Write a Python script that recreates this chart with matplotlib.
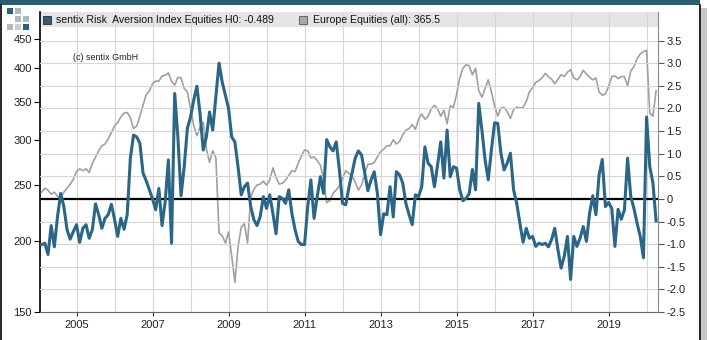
import numpy as np
import matplotlib.pyplot as plt
from matplotlib.patches import Rectangle
from matplotlib.lines import Line2D

plt.rcParams['font.family'] = ['Liberation Sans', 'DejaVu Sans']

W, H = 710, 340

# monthly values, Feb 2004 .. Apr 2020
risk_aversion = [
    -1.01, -0.98, -1.23, -0.59, -1.06, -0.39, 0.12, -0.17, -0.68, -0.89,
    -0.72, -0.57, -0.96, -0.65, -0.57, -0.87, -0.68, -0.11, -0.35, -0.65,
    -0.43, -0.35, -0.12, -0.45, -0.83, -0.43, -0.67, -0.35, 0.90, 1.41,
    1.37, 1.23, 0.57, 0.40, 0.20, 0.00, -0.24, 0.23, -0.59, -0.06,
    0.86, -0.98, 2.33, 1.37, 0.07, 0.71, 1.56, 1.81, 2.18, 2.49,
    1.89, 1.08, 1.37, 1.92, 1.52, 2.25, 3.00, 2.58, 2.29, 2.00,
    1.37, 1.26, 0.71, 0.09, 0.27, 0.35, -0.17, -0.46, -0.59, -0.39,
    0.05, -0.21, 0.09, -0.32, -0.77, 0.05, 0.01, -0.10, 0.20, -0.32,
    -0.68, -0.94, -1.01, -1.01, -0.17, 0.42, -0.43, 0.05, 0.49, 0.12,
    1.31, 1.15, 1.06, 1.26, 0.64, -0.10, -0.13, 0.25,
    0.57, 0.90, 1.06, 0.97, 0.57, 0.18, 0.42, 0.60, 0.12, -0.79,
    -0.33, -0.35, 0.27, -0.40, 0.60, 0.53, 0.35, -0.10, -0.35, -0.57,
    0.09, 0.05, 0.27, 1.15, 0.79, 0.71, 0.27, 0.75, 1.26, 0.46,
    1.52, 0.49, 0.71, 0.68, 0.20, -0.04, 0.01, 0.12, 0.65, 0.20,
    2.11, 1.52, 0.86, 0.42, 1.08, 1.68, 1.67, 1.01, 0.64, 0.79,
    1.01, 0.20, -0.10, -0.54, -0.96, -0.65, -0.87, -0.83, -1.05, -0.98,
    -1.01, -0.98, -1.06, -0.90, -0.65, -1.12, -1.53, -1.27, -0.83, -1.78,
    -0.83, -1.05, -0.87, -0.61, -0.94, -0.32, 0.07, -0.35, 0.53, 0.87,
    -0.17, -0.08, -0.21, -1.05, -0.23, -0.45, -0.24, 0.90, 0.05, -0.21,
    -0.54, -0.83, -1.30, 1.81, 0.71, 0.35, -0.489,
]

europe_equities = [
    243, 247, 245, 241, 243, 239, 237, 243, 247, 251,
    256, 264, 267, 265, 267, 263, 273, 280, 287, 293,
    295, 301, 309, 317, 322, 329, 334, 335, 328, 314,
    317, 330, 345, 360, 365, 376, 380, 380, 388, 389,
    393, 380, 374, 386, 385, 369, 364, 340, 318, 305,
    316, 322, 289, 274, 287, 279, 206, 204, 198, 207,
    188, 169, 195, 211, 214, 198, 238, 246, 250, 251,
    254, 250, 255, 268, 258, 251, 252, 255, 260, 265,
    264, 273, 281, 288, 287, 279, 280, 276, 271, 256,
    233, 235, 242, 245, 249, 257, 265, 262,
    260, 253, 245, 250, 262, 272, 272, 274, 280, 286,
    289, 293, 293, 300, 295, 298, 306, 312, 314, 319,
    313, 326, 333, 326, 330, 340, 345, 340, 330, 338,
    320, 344, 342, 360, 385, 400, 406, 404, 390, 400,
    366, 356, 369, 382, 364, 344, 330, 341, 342, 336,
    327, 339, 342, 341, 342, 350, 364, 370, 378, 381,
    385, 392, 387, 383, 376, 383, 390, 387, 394, 398,
    385, 382, 387, 397, 391, 386, 382, 385, 364, 359,
    361, 372, 387, 388, 384, 387, 387, 373, 396, 403,
    416, 424, 428, 430, 334, 330, 365.5,
]

assert len(risk_aversion) == len(europe_equities)
dates = 2004 + np.arange(1, len(risk_aversion) + 1) / 12.0

left_ticks = [150, 200, 250, 300, 350, 400, 450]
right_ticks = [-2.5, -2.0, -1.5, -1.0, -0.5, 0, 0.5, 1.0, 1.5, 2.0, 2.5, 3.0, 3.5]
year_labels = [2005, 2007, 2009, 2011, 2013, 2015, 2017, 2019]

label1 = "sentix Risk  Aversion Index Equities H0: -0.489"
label2 = "Europe Equities (all): 365.5"

BLUE = '#2b6687'
GREY = '#a0a0a0'
GRID = '#d6d6d6'

def fx(px):
    return px / W

def fy(py):
    return 1 - py / H

fig = plt.figure(figsize=(W / 100, H / 100), dpi=100)
fig.patch.set_facecolor('white')

# plot box in pixels: x 40..658, y 12..312
ax = fig.add_axes([fx(40), fy(312), (658 - 40) / W, (312 - 12) / H])
ax2 = ax.twinx()

ax.set_yscale('log')
ax.set_ylim(150, 502)
ax.set_yticks(left_ticks)
ax.set_yticklabels([str(v) for v in left_ticks])
ax.yaxis.set_minor_locator(plt.NullLocator())
ax.set_xlim(2004.039, 2020.30)
ax.set_xticks(year_labels)
ax.set_xticklabels([str(y) for y in year_labels])
ax.set_xticks([y for y in range(2006, 2021, 2)], minor=True)
ax.grid(True, axis='x', which='both', color=GRID, lw=0.8)
ax.tick_params(axis='x', which='minor', length=0)
ax.tick_params(axis='x', which='major', length=3, color='#333', labelsize=8, labelcolor='#222', pad=3)
ax.tick_params(axis='y', length=4, color='black', labelsize=8, labelcolor='#222', pad=2)

ax2.set_ylim(-2.5, 4.13)
ax2.set_yticks(right_ticks)
ax2.set_yticklabels(['0' if v == 0 else '%.1f' % v for v in right_ticks])
ax2.yaxis.grid(True, color=GRID, lw=0.8)
ax2.tick_params(axis='y', length=4, color='#555', labelsize=8, labelcolor='#222', pad=2)

for a in (ax, ax2):
    a.spines['top'].set_visible(False)
ax.spines['right'].set_visible(False)
ax2.spines['left'].set_visible(False)
ax2.spines['bottom'].set_visible(False)
ax.spines['left'].set_color('black')
ax.spines['left'].set_linewidth(1.2)
ax.spines['bottom'].set_color('#666')
ax2.spines['right'].set_color('#888')

# legend band at the top of the plot box
band = Rectangle((0, (312 - 27) / 300), 1, 15 / 300, transform=ax.transAxes,
                 facecolor='#e4e4e4', edgecolor='none', zorder=1)
ax.add_patch(band)

ax.plot(dates, europe_equities, color=GREY, lw=1.2, zorder=3)
ax2.axhline(0, color='black', lw=1.6, zorder=2)
ax2.plot(dates, risk_aversion, color=BLUE, lw=2.2, zorder=3, solid_joinstyle='round')

ly = (312 - 20) / 300
ax2.plot([(47 - 40) / 618], [ly], marker='s', ms=5.5, mfc='#3e5a70', mec='#1e2e3a', mew=0.6,
         transform=ax2.transAxes, clip_on=False, zorder=5)
ax2.text((56 - 40) / 618, ly, label1, transform=ax2.transAxes, fontsize=7.6,
         va='center', ha='left', color='#111', zorder=5)
ax2.plot([(303 - 40) / 618], [ly], marker='s', ms=5.5, mfc='#a8a8a8', mec='#555', mew=0.6,
         transform=ax2.transAxes, clip_on=False, zorder=5)
ax2.text((313 - 40) / 618, ly, label2, transform=ax2.transAxes, fontsize=7.6,
         va='center', ha='left', color='#111', zorder=5)

ax2.text((73 - 40) / 618, (312 - 57) / 300, "(c) sentix GmbH", transform=ax2.transAxes,
         fontsize=6.5, va='center', ha='left', color='#222')

# page decoration: title strip, logo squares, frame
fig.add_artist(Rectangle((0, fy(5)), fx(700), 5 / H, transform=fig.transFigure,
                         facecolor='#2d5b70', edgecolor='none'))
logo = [(7, 8, '#2e5f86'), (15, 8, '#b0b8c0'),
        (15, 16, '#b0b8c0'), (23, 16, '#b0b8c0'),
        (7, 24, '#b0b8c0'), (15, 24, '#c8ced4'), (23, 24, '#2e5f86')]
for px, py, c in logo:
    fig.add_artist(Rectangle((fx(px), fy(py + 6)), 6 / W, 6 / H, transform=fig.transFigure,
                             facecolor=c, edgecolor='none'))
fig.add_artist(Line2D([fx(1), fx(1)], [fy(5), 0], transform=fig.transFigure, color='black', lw=1.2))
fig.add_artist(Line2D([fx(700), fx(700)], [fy(5), 0], transform=fig.transFigure, color='black', lw=1.2))
fig.add_artist(Rectangle((fx(701), 0), 6 / W, fy(8), transform=fig.transFigure,
                         facecolor='#c8c8c8', edgecolor='none'))

fig.savefig('out.png', dpi=100)
